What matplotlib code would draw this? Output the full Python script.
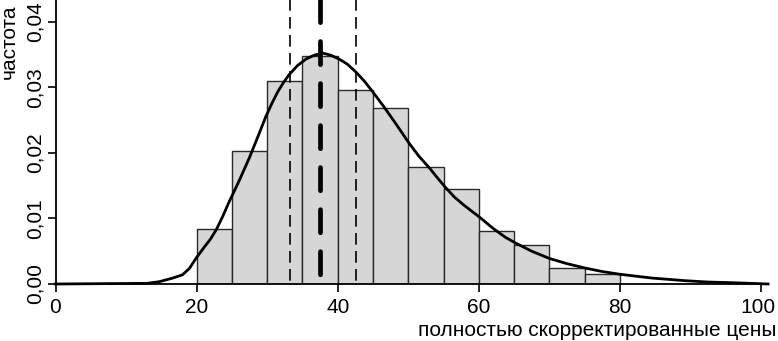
import matplotlib
matplotlib.use("Agg")
import matplotlib.pyplot as plt
from matplotlib.ticker import FixedLocator
from matplotlib.transforms import ScaledTranslation

plt.rcParams['font.family'] = ['Liberation Sans', 'DejaVu Sans']

# ---- data ----
bin_edges = [20, 25, 30, 35, 40, 45, 50, 55, 60, 65, 70, 75, 80]
bar_heights = [0.0084, 0.0203, 0.0310, 0.0347, 0.0296, 0.0269,
               0.0179, 0.0145, 0.0081, 0.0059, 0.0025, 0.0016]

curve_x = [0, 13.0, 14.7, 16.6, 18.0, 19.0, 19.9, 21.0, 22.0, 22.8, 23.7,
           24.6, 25.4, 26.1, 27.5, 28.7, 29.8, 30.7, 31.5, 32.3, 33.1, 34.3,
           35.5, 36.7, 37.9, 39.0, 40.2, 41.4, 42.6, 43.8, 44.9, 46.5, 48.2,
           50.1, 51.5, 53.0, 54.2, 55.3, 56.5, 57.8, 59.0, 60.1, 62.0, 63.8,
           65.3, 67.5, 70.0, 72.5, 75.2, 77.5, 79.9, 82.2, 84.6, 87.0, 89.3,
           92.5, 95.9, 98.5, 101.0]
curve_y = [0, 0.0001, 0.00035, 0.0009, 0.0014, 0.0024, 0.0039, 0.0055,
           0.0069, 0.0083, 0.0103, 0.0125, 0.0143, 0.0159, 0.0193, 0.0225,
           0.0255, 0.0276, 0.0293, 0.0307, 0.0319, 0.0333, 0.0343, 0.0349,
           0.0352, 0.0349, 0.0343, 0.0335, 0.0323, 0.0309, 0.0294, 0.0271,
           0.0245, 0.0215, 0.0195, 0.0177, 0.0161, 0.0147, 0.0133, 0.0121,
           0.0111, 0.0102, 0.0085, 0.0071, 0.0062, 0.0050, 0.0039, 0.0031,
           0.0024, 0.0019, 0.0015, 0.0012, 0.0009, 0.0007, 0.0005, 0.0003,
           0.0002, 0.0001, 0.0]

center_line = 37.5
interval_lines = [33.3, 42.6]

x_ticks = [0, 20, 40, 60, 80, 100]
x_tick_labels = ["0", "20", "40", "60", "80", "100"]
y_ticks = [0.00, 0.01, 0.02, 0.03, 0.04]
y_tick_labels = ["0,00", "0,01", "0,02", "0,03", "0,04"]

x_label = "полностью скорректированные цены"
y_label = "частота"

# ---- figure ----
W, H = 778, 341
fig = plt.figure(figsize=(W / 100, H / 100), dpi=100)
x0_px, x100_px = 55.5, 761.0
y0_px = 284.0
ppu_y = 6558.0
ax = fig.add_axes([x0_px / W, (H - y0_px) / H, (x100_px - x0_px) / W, y0_px / H])
ax.set_xlim(0, 100)
ytop = y0_px / ppu_y
ax.set_ylim(0, ytop)

widths = [b - a for a, b in zip(bin_edges[:-1], bin_edges[1:])]
ax.bar(bin_edges[:-1], bar_heights, width=widths, align='edge',
       color='#d6d6d6', edgecolor='#2a2a2a', linewidth=1.0, zorder=2)

for xv in interval_lines:
    ax.plot([xv, xv], [ytop * 1.02, 0], color='black', lw=1.2,
            dashes=(7.0, 3.8), zorder=3, clip_on=False)

top_start = (y0_px + 16.3) / ppu_y
ax.plot([center_line, center_line], [top_start, 0], color='black', lw=3.4,
        dashes=(4.9, 4.0), zorder=4, clip_on=False, solid_capstyle='butt',
        dash_capstyle='round')

ax.plot(curve_x, curve_y, color='black', lw=2.0, zorder=5, clip_on=False,
        solid_joinstyle='round')

# spines
for s in ['top', 'right']:
    ax.spines[s].set_visible(False)
ax.spines['left'].set_linewidth(1.3)
ax.spines['bottom'].set_linewidth(1.3)
ax.spines['bottom'].set_bounds(0, 100)
ax.spines['bottom'].set_zorder(6)

ax.xaxis.set_major_locator(FixedLocator(x_ticks))
ax.set_xticklabels(x_tick_labels)
ax.yaxis.set_major_locator(FixedLocator(y_ticks))
ax.set_yticklabels(y_tick_labels)
ax.tick_params(axis='both', direction='out', length=6, width=1.2,
               labelsize=15, color='black')
ax.tick_params(axis='x', pad=4)
ax.tick_params(axis='y', pad=2)
for lab in ax.get_yticklabels():
    lab.set_rotation(90)
    lab.set_va('center')
    lab.set_ha('right')
last = ax.get_xticklabels()[-1]
last.set_transform(last.get_transform() + ScaledTranslation(-3 / 100, 0, fig.dpi_scale_trans))

fig.text(776 / W, 1 - 330 / H, x_label, ha='right', va='center', fontsize=15)
fig.text(9 / W, 1 - 42 / H, y_label, ha='center', va='center', rotation=90,
         fontsize=15)

fig.savefig("out.png", dpi=100)
